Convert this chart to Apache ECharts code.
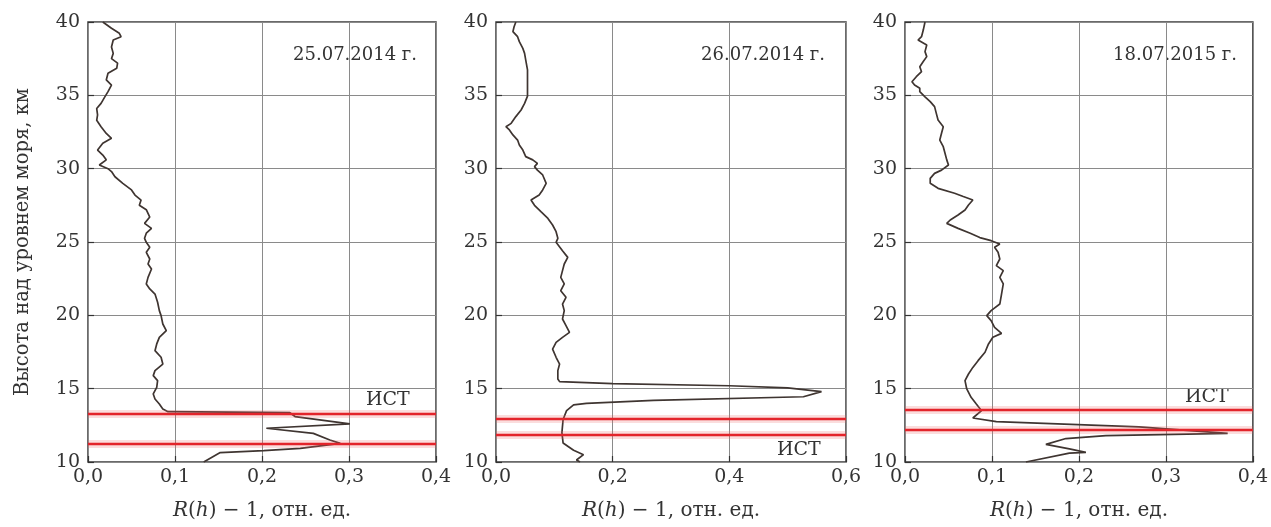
<!DOCTYPE html>
<html>
<head>
<meta charset="utf-8">
<script src="https://cdn.jsdelivr.net/npm/echarts@6/dist/echarts.min.js"></script>
<style>
  html, body { margin: 0; padding: 0; background: #fff; }
  #chart-box { width: 1271px; height: 527px; }
</style>
</head>
<body>
<div id="chart-box"></div>
<script>
// heights (km) and R(h)-1 values
const h1 = [40, 39.95, 39.57, 39.23, 39.0, 38.77, 38.3, 37.86, 37.5, 37.2, 36.84, 36.5, 36.05, 35.7, 35.25, 34.86, 34.45, 34.1, 33.66, 33.3, 32.86, 32.4, 32.07, 31.73, 31.27, 30.93, 30.6, 30.25, 30.0, 29.8, 29.45, 29.0, 28.55, 28.2, 27.86, 27.5, 27.2, 26.7, 26.27, 25.93, 25.6, 25.25, 24.98, 24.64, 24.3, 23.84, 23.5, 23.16, 22.59, 22.14, 21.8, 21.45, 20.89, 20.32, 19.98, 19.41, 18.95, 18.5, 18.05, 17.59, 17.14, 16.68, 16.23, 15.89, 15.55, 15.09, 14.64, 14.3, 13.95, 13.61, 13.43, 13.36, 13.1, 12.6, 12.3, 11.95, 11.5, 11.27, 10.93, 10.77, 10.64, 10.0];
const r1 = [0.017, 0.019, 0.027, 0.036, 0.038, 0.029, 0.027, 0.029, 0.027, 0.034, 0.033, 0.023, 0.021, 0.027, 0.023, 0.019, 0.015, 0.010, 0.011, 0.010, 0.015, 0.021, 0.027, 0.017, 0.011, 0.017, 0.021, 0.013, 0.023, 0.027, 0.031, 0.040, 0.050, 0.054, 0.061, 0.059, 0.067, 0.071, 0.065, 0.073, 0.067, 0.065, 0.067, 0.071, 0.067, 0.071, 0.069, 0.073, 0.069, 0.067, 0.071, 0.077, 0.080, 0.082, 0.084, 0.086, 0.090, 0.082, 0.079, 0.077, 0.084, 0.086, 0.077, 0.075, 0.080, 0.079, 0.075, 0.077, 0.082, 0.086, 0.092, 0.232, 0.238, 0.301, 0.205, 0.259, 0.278, 0.290, 0.244, 0.202, 0.152, 0.133];

const h2 = [40, 39.68, 39.34, 39.0, 38.66, 38.2, 37.86, 37.4, 36.73, 36.05, 35.36, 34.95, 34.45, 34.0, 33.55, 33.09, 32.86, 32.64, 32.3, 31.95, 31.61, 31.27, 30.82, 30.6, 30.36, 30.14, 29.9, 29.57, 29.0, 28.55, 28.2, 27.86, 27.5, 27.07, 26.61, 26.16, 25.7, 25.25, 24.98, 24.4, 23.95, 23.5, 23.05, 22.59, 22.14, 21.68, 21.23, 20.77, 20.32, 19.75, 19.3, 18.84, 18.5, 18.16, 17.7, 17.14, 16.68, 16.23, 15.66, 15.48, 15.35, 15.2, 15.05, 14.8, 14.45, 14.2, 14.0, 13.9, 13.5, 12.9, 12.0, 11.3, 10.8, 10.5, 10.14, 10.0];
const r2 = [0.034, 0.031, 0.029, 0.037, 0.040, 0.046, 0.049, 0.051, 0.054, 0.054, 0.054, 0.054, 0.049, 0.043, 0.034, 0.026, 0.017, 0.023, 0.029, 0.037, 0.040, 0.046, 0.051, 0.063, 0.071, 0.066, 0.071, 0.080, 0.086, 0.080, 0.074, 0.060, 0.066, 0.077, 0.089, 0.097, 0.103, 0.106, 0.103, 0.114, 0.123, 0.117, 0.114, 0.111, 0.117, 0.111, 0.120, 0.114, 0.117, 0.114, 0.120, 0.126, 0.114, 0.103, 0.097, 0.103, 0.109, 0.106, 0.106, 0.109, 0.200, 0.400, 0.500, 0.558, 0.527, 0.270, 0.155, 0.133, 0.121, 0.115, 0.113, 0.115, 0.133, 0.150, 0.138, 0.144];

const h3 = [40, 39.45, 39.0, 38.77, 38.43, 37.98, 37.64, 37.3, 36.95, 36.61, 36.27, 35.93, 35.7, 35.48, 35.25, 34.9, 34.57, 34.23, 33.77, 33.32, 32.86, 32.41, 31.95, 31.5, 31.05, 30.6, 30.25, 29.9, 29.68, 29.34, 29.0, 28.66, 28.32, 28.1, 27.86, 27.52, 27.18, 26.84, 26.5, 26.27, 25.93, 25.6, 25.3, 25.09, 24.86, 24.64, 24.3, 23.84, 23.39, 23.05, 22.59, 22.14, 21.45, 20.77, 20.32, 19.98, 19.64, 19.18, 18.77, 18.5, 18.05, 17.48, 16.91, 16.45, 16.0, 15.55, 14.98, 14.41, 13.95, 13.5, 13.0, 12.75, 12.4, 11.95, 11.8, 11.6, 11.2, 10.9, 10.66, 10.6, 10.0];
const r3 = [0.023, 0.021, 0.019, 0.015, 0.025, 0.023, 0.025, 0.021, 0.017, 0.019, 0.013, 0.008, 0.011, 0.017, 0.017, 0.023, 0.029, 0.034, 0.036, 0.038, 0.044, 0.042, 0.040, 0.044, 0.046, 0.048, 0.050, 0.042, 0.034, 0.029, 0.029, 0.038, 0.057, 0.067, 0.078, 0.073, 0.069, 0.061, 0.052, 0.048, 0.061, 0.075, 0.086, 0.099, 0.109, 0.103, 0.107, 0.109, 0.105, 0.113, 0.109, 0.113, 0.111, 0.109, 0.099, 0.094, 0.099, 0.103, 0.111, 0.101, 0.096, 0.092, 0.084, 0.078, 0.073, 0.069, 0.071, 0.076, 0.082, 0.088, 0.078, 0.105, 0.269, 0.371, 0.231, 0.185, 0.162, 0.189, 0.208, 0.189, 0.139];

// tropopause layer bounds (red lines)
const layers = [[13.27, 11.23], [12.93, 11.84], [13.59, 12.23]];
const dates = ["25.07.2014 г.", "26.07.2014 г.", "18.07.2015 г."];
const xMax = [0.4, 0.6, 0.4];
const xStep = [0.1, 0.2, 0.1];
const yTicks = [10, 40, 5];

const serif = "DejaVu Serif";
const chart = echarts.init(document.getElementById("chart-box"));

const grids = [
  { left: 88, top: 22, width: 348, height: 440 },
  { left: 496, top: 22, width: 350, height: 440 },
  { left: 905, top: 22, width: 349, height: 440 },
];

const curves = [[h1, r1], [h2, r2], [h3, r3]];

const option = {
  animation: false,
  backgroundColor: "#fff",
  grid: grids.map((g) => ({
    ...g,
    show: true,
    borderColor: "#3a3a3a",
    borderWidth: 1.5,
    backgroundColor: "transparent",
  })),
  xAxis: grids.map((g, i) => ({
    type: "value",
    gridIndex: i,
    min: 0,
    max: xMax[i],
    interval: xStep[i],
    name: "{i|R}({i|h}) − 1, отн. ед.",
    nameLocation: "middle",
    nameGap: 39,
    nameTextStyle: {
      fontFamily: serif,
      fontSize: 20,
      color: "#333",
      rich: { i: { fontFamily: serif, fontStyle: "italic", fontSize: 20, color: "#333" } },
    },
    axisLine: { show: false },
    axisTick: { show: true, inside: true, length: 6, lineStyle: { color: "#333", width: 1.2 } },
    axisLabel: {
      margin: 6,
      fontFamily: serif,
      fontSize: 19,
      color: "#333",
      formatter: (v) => v.toFixed(1).replace(".", ","),
    },
    splitLine: { show: true, lineStyle: { color: "#8a8a8a", width: 1 } },
  })),
  yAxis: grids.map((g, i) => ({
    type: "value",
    gridIndex: i,
    min: yTicks[0],
    max: yTicks[1],
    interval: yTicks[2],
    name: i === 0 ? "Высота над уровнем моря, км" : "",
    nameLocation: "middle",
    nameGap: 55,
    nameTextStyle: { fontFamily: serif, fontSize: 19.5, color: "#333" },
    axisLine: { show: false },
    axisTick: { show: true, inside: true, length: 6, lineStyle: { color: "#333", width: 1.2 } },
    axisLabel: { margin: 8, fontFamily: serif, fontSize: 19, color: "#333" },
    splitLine: { show: true, lineStyle: { color: "#8a8a8a", width: 1 } },
  })),
  series: curves.map(([h, r], i) => ({
    type: "line",
    xAxisIndex: i,
    yAxisIndex: i,
    showSymbol: false,
    symbol: "none",
    smooth: false,
    lineStyle: { color: "#3f3531", width: 1.7 },
    data: h.map((v, k) => [r[k], v]),
    markLine: {
      silent: true,
      symbol: "none",
      label: { show: false },
      data: layers[i].flatMap((y) => [
        { yAxis: y, lineStyle: { color: "rgba(235,100,100,0.22)", width: 8, type: "solid" } },
        { yAxis: y, lineStyle: { color: "#e3242b", width: 2.4, type: "solid" } },
      ]),
    },
  })),
  graphic: [
    ...dates.map((d, i) => ({
      type: "text",
      right: 1271 - [417, 825, 1237][i],
      top: 46,
      style: { text: d, font: "18px '" + serif + "'", fill: "#333" },
    })),
    { type: "text", left: 366, top: 391, style: { text: "ИСТ", font: "19px '" + serif + "'", fill: "#333" } },
    { type: "text", left: 777, top: 441, style: { text: "ИСТ", font: "19px '" + serif + "'", fill: "#333" } },
    { type: "text", left: 1185, top: 388, style: { text: "ИСТ", font: "19px '" + serif + "'", fill: "#333" } },
  ],
};

chart.setOption(option);
</script>
</body>
</html>
